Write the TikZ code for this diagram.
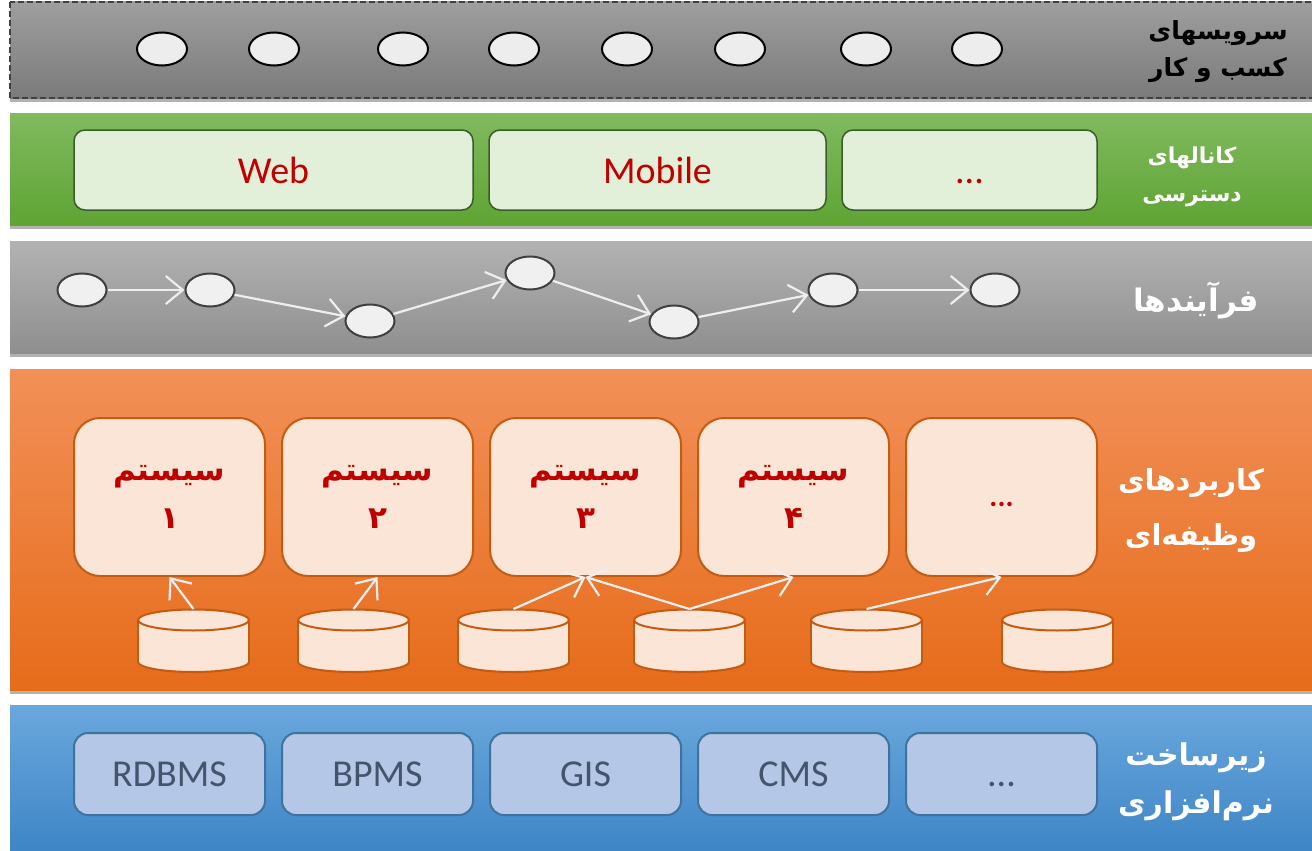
\documentclass[tikz,border=0pt]{standalone}
\usepackage{fontspec}
\setmainfont{Carlito}
\newfontfamily\fa[Script=Arabic]{DejaVu Sans}
\TeXXeTstate=1
\usetikzlibrary{shapes.geometric,shadows,arrows.meta}

\definecolor{sysred}{HTML}{C00000}
\definecolor{orgborder}{HTML}{C55A11}
\definecolor{orgfill}{HTML}{FBE5D6}
\definecolor{grnfill}{HTML}{E2F0D9}
\definecolor{grnborder}{HTML}{3B5B2B}
\definecolor{blufill}{HTML}{B4C7E7}
\definecolor{bluborder}{HTML}{41719C}
\definecolor{blutext}{HTML}{44546A}
\definecolor{arrowwhite}{HTML}{EEEEEE}

\tikzset{
  band/.style={drop shadow={shadow xshift=0pt,shadow yshift=-4pt,opacity=0.5,fill=black!60}},
  svc/.style={ellipse,draw=black,line width=2pt,fill=black!7,minimum width=50pt,minimum height=33pt,inner sep=0pt},
  proc/.style={ellipse,draw=black!75,line width=2pt,fill=black!6,minimum width=49pt,minimum height=33pt,inner sep=0pt},
  flow/.style={draw=arrowwhite,line width=2.2pt,-{Straight Barb[length=17pt,width=28pt]}},
  chan/.style={draw=grnborder,line width=1.5pt,fill=grnfill,rounded corners=11pt,minimum height=80pt,inner sep=0pt,text=sysred,font=\fontsize{38}{40}\selectfont},
  sysbox/.style={draw=orgborder,line width=2pt,fill=orgfill,rounded corners=26pt,minimum width=191pt,minimum height=158pt,inner sep=0pt,text=sysred,align=center,font=\fa\bfseries\fontsize{31}{48}\selectfont},
  infra/.style={draw=bluborder,line width=2pt,fill=blufill,rounded corners=14pt,minimum width=191pt,minimum height=82pt,inner sep=0pt,text=blutext,font=\fontsize{38}{40}\selectfont},
  lbl/.style={align=center,font=\fa\bfseries\fontsize{24}{38}\selectfont},
  cylfill/.style={fill=orgfill},
  cylline/.style={draw=orgborder,line width=2pt},
}

% a database drum: #1 = name of the top coordinate, #2 = centre x
\newcommand\drum[2]{%
  \path[cylfill,cylline] (#2,662) ellipse [x radius=55.5pt,y radius=10pt];
  \path[cylfill] (#2-55.5,620) rectangle (#2+55.5,662);
  \draw[cylline] (#2-55.5,620) -- (#2-55.5,662) (#2+55.5,620) -- (#2+55.5,662);
  \path[cylfill,cylline] (#2,620) ellipse [x radius=55.5pt,y radius=10.5pt];
  \coordinate (#1) at (#2,609);
}

\begin{document}
\begin{tikzpicture}[x=1pt,y=-1pt]
\useasboundingbox[fill=white] (0,0) rectangle (1312,851);

% ---- layer bands ----
\path[band,top color=black!38,bottom color=black!52,draw=black!75,dash pattern=on 6pt off 3pt,line width=1.2pt] (10,2) rectangle (1316,98);
\path[band,top color={rgb,255:red,128;green,186;blue,94},bottom color={rgb,255:red,95;green,164;blue,52}] (10,113) rectangle (1316,225);
\path[band,top color=black!30,bottom color=black!44] (10,241) rectangle (1316,353);
\path[band,top color={rgb,255:red,242;green,144;blue,88},middle color={rgb,255:red,240;green,124;blue,42},bottom color={rgb,255:red,230;green,108;blue,26}] (10,369) rectangle (1316,690);
\path[band,top color={rgb,255:red,106;green,167;blue,221},bottom color={rgb,255:red,61;green,133;blue,198}] (10,705) rectangle (1316,855);

% ---- business services ----
\foreach \i/\x in {1/162,2/274,3/403,4/514,5/627,6/740,7/866,8/977}
  \node[svc] (s\i) at (\x,49) {};
\node[lbl,text=black,font=\fa\bfseries\fontsize{25}{37}\selectfont] (svclbl) at (1218,52) {\beginR سرویسهای\endR\\\beginR کسب و کار\endR};

% ---- access channels ----
\node[chan,minimum width=399pt] (web) at (273.5,170) {Web};
\node[chan,minimum width=337pt] (mobile) at (657.5,170) {Mobile};
\node[chan,minimum width=255pt] (chmore) at (969.5,170) {\vphantom{Wb}...};
\node[lbl,text=white,font=\fa\bfseries\fontsize{22}{38}\selectfont] (chlbl) at (1192,177) {\beginR کانالهای\endR\\\beginR دسترسی\endR};

% ---- processes ----
\node[proc] (p1) at (82,290) {};
\node[proc] (p2) at (210,290) {};
\node[proc] (p3) at (370,321) {};
\node[proc] (p4) at (530,273) {};
\node[proc] (p5) at (674,322) {};
\node[proc] (p6) at (833,290) {};
\node[proc] (p7) at (995,290) {};
\foreach \a/\b in {p1/p2,p2/p3,p3/p4,p4/p5,p5/p6,p6/p7}
  \draw[flow] (\a) -- (\b);
\node[lbl,text=white,font=\fa\bfseries\fontsize{31}{38}\selectfont] (proclbl) at (1196,300) {\beginR فرآیندها\endR};

% ---- functional applications ----
\node[sysbox] (sys1) at (169.5,497) {\beginR سیستم\endR\\\beginR ۱\endR};
\node[sysbox] (sys2) at (377.5,497) {\beginR سیستم\endR\\\beginR ۲\endR};
\node[sysbox] (sys3) at (585.5,497) {\beginR سیستم\endR\\\beginR ۳\endR};
\node[sysbox] (sys4) at (793.5,497) {\beginR سیستم\endR\\\beginR ۴\endR};
\node[sysbox,font=\bfseries\fontsize{30}{40}\selectfont] (sys5) at (1001.5,497) {\vphantom{M}...};

\drum{db1}{193.5}
\drum{db2}{353.5}
\drum{db3}{513.5}
\drum{db4}{689.5}
\drum{db5}{866.5}
\drum{db6}{1057.5}

\draw[flow] (db1) -- (sys1.south);
\draw[flow] (db2) -- (sys2.south);
\draw[flow] (db3) -- (sys3.south);
\draw[flow] (db4) -- (sys3.south);
\draw[flow] (db4) -- (sys4.south);
\draw[flow] (db5) -- (sys5.south);

\node[lbl,text=white,font=\fa\bfseries\fontsize{29}{55}\selectfont] (applbl) at (1191,511) {\beginR کاربردهای\endR\\\beginR وظیفه‌ای\endR};

% ---- software infrastructure ----
\node[infra] (rdbms) at (169.5,774) {RDBMS};
\node[infra] (bpms) at (377.5,774) {BPMS};
\node[infra] (gis) at (585.5,774) {GIS};
\node[infra] (cms) at (793.5,774) {CMS};
\node[infra] (inmore) at (1001.5,774) {\vphantom{RD}...};
\node[lbl,text=white,font=\fa\bfseries\fontsize{30}{48}\selectfont] (inflbl) at (1196,782) {\beginR زیرساخت\endR\\\beginR نرم‌افزاری\endR};
\end{tikzpicture}
\end{document}
